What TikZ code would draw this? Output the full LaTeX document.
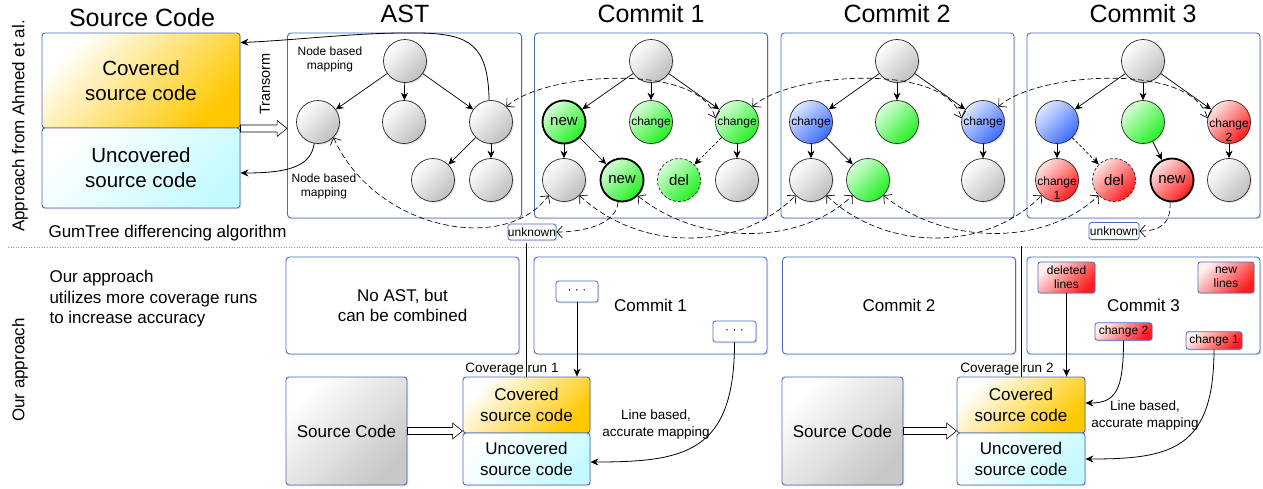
\documentclass[tikz,border=0pt]{standalone}
\usepackage{fontspec}
\setmainfont{Liberation Sans}
\usetikzlibrary{arrows.meta,shadows,calc}
\newcommand{\fsz}[2]{\fontsize{#1}{#2}\selectfont}
\definecolor{panelblue}{RGB}{72,108,190}
\definecolor{gold}{RGB}{255,200,0}
\definecolor{aqua}{RGB}{196,250,255}
\definecolor{lgreen}{RGB}{215,255,215}
\definecolor{ngreen}{RGB}{35,240,35}
\definecolor{lblue}{RGB}{222,232,255}
\definecolor{nblue}{RGB}{60,108,255}
\definecolor{lred}{RGB}{255,228,228}
\definecolor{nred}{RGB}{255,28,28}
\definecolor{sepgray}{RGB}{150,150,150}
\begin{document}
\begin{tikzpicture}[x=1pt,y=-1pt,
  f25/.style={font=\fsz{25}{30}},
  f20/.style={font=\fsz{20.5}{25}},
  f17/.style={font=\fsz{17}{20.7}},
  f15/.style={font=\fsz{15}{17}},
  f14/.style={font=\fsz{14.5}{17}},
  f135/.style={font=\fsz{13.5}{17}},
  f12/.style={font=\fsz{12}{14}},
  shd/.style={drop shadow={opacity=0.22,shadow xshift=1.3pt,shadow yshift=-1.3pt}},
  panel/.style={draw=panelblue,line width=0.9pt,rounded corners=3.5pt,fill=white,inner sep=0pt,align=center,shd},
  srcbox/.style={draw=panelblue,line width=0.9pt,rounded corners=3pt,inner sep=0pt,align=center,shd},
  covbox/.style={srcbox,top color=white,bottom color=gold,shading angle=45},
  uncbox/.style={srcbox,top color=white,bottom color=aqua,shading angle=45},
  graybox/.style={srcbox,top color=white,bottom color=black!22,shading angle=45},
  sbox/.style={draw=panelblue,line width=0.8pt,rounded corners=2.5pt,fill=white,inner sep=0pt,f12,align=center,shd},
  rbox/.style={sbox,top color=lred!60!white,bottom color=nred,shading angle=45},
  tnode/.style={circle,draw=black!85,line width=0.7pt,minimum size=43pt,inner sep=0pt,shd},
  gc/.style={tnode,top color=white,bottom color=black!25,shading angle=45},
  grc/.style={tnode,top color=lgreen,bottom color=ngreen,shading angle=45},
  bc/.style={tnode,top color=lblue,bottom color=nblue,shading angle=45},
  rc/.style={tnode,top color=lred,bottom color=nred,shading angle=45},
  thickb/.style={line width=1.8pt,draw=black},
  dashb/.style={dash pattern=on 3pt off 2pt},
  tarr/.style={line width=0.7pt,-{Stealth[length=7.5pt,width=7pt]}},
  maparr/.style={line width=0.65pt,dash pattern=on 5.5pt off 3pt,
    {Straight Barb[length=5.5pt,width=12pt]}-{Straight Barb[length=5.5pt,width=12pt]}},
  unkarr/.style={line width=0.65pt,dash pattern=on 5.5pt off 3pt,-{Straight Barb[length=5.5pt,width=12pt]}},
  solarr/.style={line width=0.8pt,-{Stealth[length=8pt,width=7pt]}},
  blockarr/.style={draw,fill=white,line width=0.6pt,to path={
    let \p1=(\tikztostart), \p2=(\tikztotarget) in
    (\x1,\y1+3.5pt) -- (\x2-10pt,\y1+3.5pt) -- (\x2-10pt,\y1+8pt) -- (\x2,\y1)
    -- (\x2-10pt,\y1-8pt) -- (\x2-10pt,\y1-3.5pt) -- (\x1,\y1-3.5pt) -- cycle}},
]
\useasboundingbox (0,0) rectangle (1263,488);

% ---------- titles and side labels ----------
\node[f25,anchor=base] (tsrc) at (142,26.5) {Source Code};
\node[f25,anchor=base] (tast) at (405,22.5) {AST};
\node[f25,anchor=base] (tc1) at (651,22.5) {Commit 1};
\node[f25,anchor=base] (tc2) at (897,22.5) {Commit 2};
\node[f25,anchor=base] (tc3) at (1143,22.5) {Commit 3};
\node[f17,rotate=90] (lab1) at (20,126) {Approach from Ahmed et al.};
\node[f17,rotate=90] (lab2) at (20,370) {Our approach};

% ---------- upper row: source code and AST panels ----------
\node[covbox,f20,minimum width=198pt,minimum height=95pt] (cov) at (141,80.5) {Covered\\source code};
\node[uncbox,f20,minimum width=198pt,minimum height=80pt] (unc) at (141,168) {Uncovered\\source code};

\node[panel,minimum width=234pt,minimum height=185pt] (astp) at (404.5,125.5) {};
\node[panel,minimum width=233pt,minimum height=185pt] (c1p) at (651,125.5) {};
\node[panel,minimum width=233pt,minimum height=185pt] (c2p) at (897.5,125.5) {};
\node[panel,minimum width=233pt,minimum height=185pt] (c3p) at (1143.5,125.5) {};

\node[f17,anchor=base west] (gt) at (45,237.5) {GumTree differencing algorithm};
\draw[sepgray,line width=0.7pt,dash pattern=on 1pt off 1.6pt] (8,247) -- (1263,247);

% tree nodes: AST
\node[gc] (a0) at (405,61) {};
\node[gc] (a1) at (318,122) {};
\node[gc] (a2) at (404,122) {};
\node[gc] (a3) at (491,122) {};
\node[gc] (a4) at (433,180) {};
\node[gc] (a5) at (491,180) {};
% Commit 1
\node[gc] (b0) at (651,61) {};
\node[grc,thickb,f15] (b1) at (564,122) {new};
\node[grc,f12] (b2) at (651,122) {change};
\node[grc,f12] (b3) at (737,122) {change};
\node[gc] (b4) at (564,180) {};
\node[grc,thickb,f15] (b5) at (622,180) {new};
\node[grc,dashb,f15] (b6) at (679,180) {del};
\node[gc] (b7) at (737,180) {};
% Commit 2
\node[gc] (c0) at (897,61) {};
\node[bc,f12] (c1) at (811,122) {change};
\node[grc] (c2) at (897,122) {};
\node[bc,f12] (c3) at (983,122) {change};
\node[gc] (c4) at (811,180) {};
\node[grc] (c5) at (868,180) {};
\node[gc] (c6) at (983,180) {};
% Commit 3
\node[gc] (d0) at (1143,61) {};
\node[bc] (d1) at (1057,122) {};
\node[grc] (d2) at (1143,122) {};
\node[rc,label={[f12,align=center,yshift=-8pt]center:{change\\2}}] (d3) at (1229,122) {};
\node[rc,label={[f12,align=center,yshift=-8pt]center:{change\\1}}] (d4) at (1057,180) {};
\node[rc,dashb,f15] (d5) at (1114,180) {del};
\node[rc,thickb,f15] (d6) at (1172,180) {new};
\node[gc] (d7) at (1229,180) {};

% tree edges
\foreach \s/\t in {a0/a1,a0/a2,a0/a3,a3/a4,a3/a5,
                   b0/b1,b0/b2,b0/b3,b1/b4,b1/b5,b3/b7,
                   c0/c1,c0/c2,c0/c3,c1/c4,c1/c5,c3/c6,
                   d0/d1,d0/d2,d0/d3,d1/d4,d2/d6,d3/d7}
  \draw[tarr] (\s) -- (\t);
\draw[tarr,dash pattern=on 3pt off 2pt] (b3) -- (b6);
\draw[tarr,dash pattern=on 3pt off 2pt] (d1) -- (d5);

% unknown targets
\node[sbox,minimum width=48pt,minimum height=16pt] (u1) at (532,232) {unknown};
\node[sbox,minimum width=50pt,minimum height=17pt] (u2) at (1114,231) {unknown};

% GumTree mappings between versions
\draw[maparr] (a3.45) .. controls (545,72) and (700,62) .. (b3.170);
\draw[maparr] (b3.45) .. controls (791,72) and (946,62) .. (c3.170);
\draw[maparr] (c3.45) .. controls (1037,72) and (1192,62) .. (d3.170);
\draw[maparr] (a1.-45) .. controls (375,230) and (505,255) .. (b4.-135);
\draw[maparr] (b4.-45) .. controls (640,252) and (740,252) .. (c4.-135);
\draw[maparr] (b5.-45) .. controls (700,246) and (800,246) .. (c5.-135);
\draw[maparr] (c4.-45) .. controls (886,252) and (986,252) .. (d4.-135);
\draw[maparr] (c5.-45) .. controls (946,246) and (1046,246) .. (d5.-135);
\draw[unkarr] (b5.-100) .. controls (616,226) and (580,232) .. (u1.east);
\draw[unkarr] (d6.-95) .. controls (1171,224) and (1160,231) .. (u2.east);

% AST <-> source code
\draw[blockarr] (cov.south east) to (astp.west);
\node[f14,rotate=90] (tr) at (265,84) {Transorm};
\draw[solarr] (a3.95) .. controls (488,45) and (470,34) .. (420,33)
  .. controls (360,32) and (300,40) .. ($(cov.north east)+(0,10)$);
\draw[solarr] (a1.-100) .. controls (311,165) and (292,173) .. ($(unc.east)+(0,5)$);
\node[f12,align=center] (nbm1) at (330,59) {Node based\\mapping};
\node[f12,align=center] (nbm2) at (324,186) {Node based\\mapping};

% ---------- lower row: coverage based approach ----------
\node[f17,align=left,anchor=west] (ourtxt) at (46,298.7) {Our approach\\utilizes more coverage runs\\to increase accuracy};
\node[panel,f17,minimum width=233pt,minimum height=97pt] (p0) at (402.5,305.5) {No AST, but\\can be combined};
\node[panel,f17,minimum width=233pt,minimum height=97pt] (p1) at (650.5,305.5) {Commit 1};
\node[panel,f17,minimum width=233pt,minimum height=97pt] (p2) at (899,305.5) {Commit 2};
\node[panel,f17,minimum width=233pt,minimum height=97pt] (p3) at (1143.5,305.5) {Commit 3};

\node[sbox,minimum width=42pt,minimum height=21pt] (dt1) at (577,291.5) {· · ·};
\node[sbox,minimum width=43pt,minimum height=21pt] (dt2) at (734.5,331.5) {· · ·};

\node[rbox,minimum width=57pt,minimum height=31pt] (dl) at (1066.5,277.5) {deleted\\lines};
\node[rbox,minimum width=56pt,minimum height=31pt] (nl) at (1226,277.5) {new\\lines};
\node[rbox,minimum width=57pt,minimum height=17.5pt] (ch2) at (1123.5,331.5) {change 2};
\node[rbox,minimum width=56pt,minimum height=17.5pt] (ch1) at (1214,340.5) {change 1};

\node[graybox,f17,minimum width=121pt,minimum height=108pt] (src1) at (346.5,431) {Source Code};
\node[covbox,f17,minimum width=127pt,minimum height=56pt] (cov1) at (526.5,405) {Covered\\source code};
\node[uncbox,f17,minimum width=127pt,minimum height=52pt] (unc1) at (526.5,459) {Uncovered\\source code};
\node[graybox,f17,minimum width=121pt,minimum height=108pt] (src2) at (842.5,431) {Source Code};
\node[covbox,f17,minimum width=128pt,minimum height=56pt] (cov2) at (1021,405) {Covered\\source code};
\node[uncbox,f17,minimum width=128pt,minimum height=52pt] (unc2) at (1021,459) {Uncovered\\source code};

\node[f135] (cr1) at (512,369) {Coverage run 1};
\node[f135] (cr2) at (1007,369) {Coverage run 2};
\node[f135,align=center] (lb1) at (656,425) {Line based,\\accurate mapping};
\node[f135,align=center] (lb2) at (1145,416) {Line based,\\accurate mapping};

\draw[line width=0.7pt] (cov1.north) -- ++(0,-134);
\draw[line width=0.7pt] (cov2.north) -- ++(0,-131);

\draw[blockarr] (src1.east) to (cov1.south west);
\draw[blockarr] (src2.east) to (cov2.south west);

\draw[solarr] (dt1.south) -- (dt1.south |- cov1.north);
\draw[solarr] (dt2.south) .. controls +(0,110) and +(95,0) .. ($(unc1.east)+(0,3)$);
\draw[solarr] (dl.south) -- (dl.south |- cov2.north);
\draw[solarr] (ch2.south) .. controls +(0,50) and +(30,0) .. ($(cov2.east)+(0,-2)$);
\draw[solarr] (ch1.south) .. controls +(0,100) and +(85,0) .. (unc2.east);
\end{tikzpicture}
\end{document}
